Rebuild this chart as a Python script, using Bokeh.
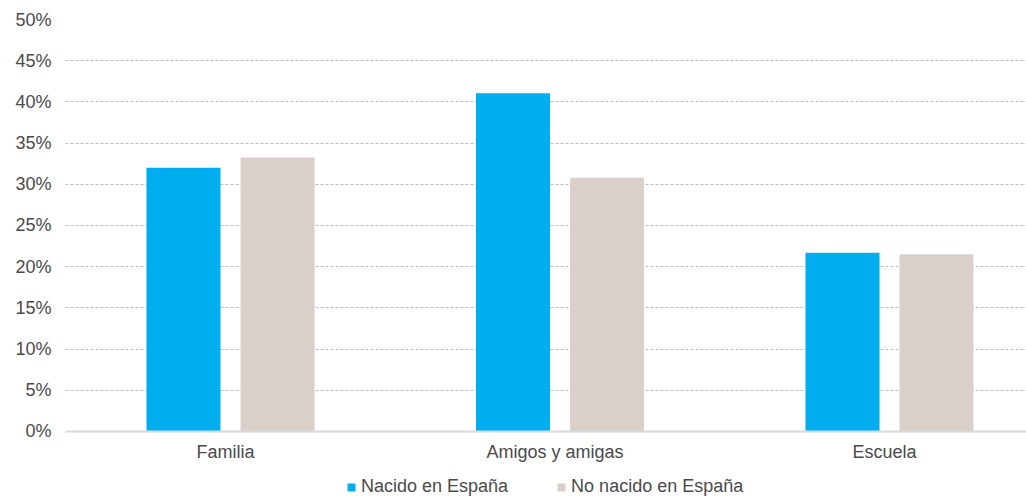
from bokeh.plotting import figure
from bokeh.models import ColumnDataSource, Legend, LegendItem, FixedTicker, PrintfTickFormatter, Range1d
from bokeh.embed import file_html
from bokeh.resources import INLINE

categories = ["Familia", "Amigos y amigas", "Escuela"]
nacido = [32.0, 41.05, 21.7]
no_nacido = [33.25, 30.8, 21.5]
series_names = ["Nacido en España", "No nacido en España"]
y_ticks = [0, 5, 10, 15, 20, 25, 30, 35, 40, 45, 50]

BLUE = "#00AEEF"
BEIGE = "#D9D0CA"
TXT = "#4a4a4a"
FONT = "Liberation Sans"

x = list(range(len(categories)))
off_blue = -0.1275
off_beige = 0.158
bw = 0.2246

src1 = ColumnDataSource(dict(x=[v + off_blue for v in x], top=nacido))
src2 = ColumnDataSource(dict(x=[v + off_beige for v in x], top=no_nacido))

p = figure(width=1026, height=496, output_backend="svg", toolbar_location=None,
           x_range=Range1d(-0.4856, 2.431), y_range=Range1d(-7.89, 50),
           min_border_left=65, min_border_right=0, min_border_top=19, min_border_bottom=0)
p.outline_line_color = None

r1 = p.vbar(x="x", top="top", width=bw, source=src1, fill_color=BLUE, line_color=None)
r2 = p.vbar(x="x", top="top", width=bw, source=src2, fill_color=BEIGE, line_color=None)

p.xgrid.grid_line_color = None
p.ygrid.grid_line_color = "#BDBDBD"
p.ygrid.grid_line_dash = "3 2"
p.ygrid.grid_line_width = 1
p.ygrid.ticker = FixedTicker(ticks=y_ticks[1:])
p.ygrid.level = "underlay"

p.yaxis.ticker = FixedTicker(ticks=y_ticks)
p.yaxis.formatter = PrintfTickFormatter(format="%d%%")
p.yaxis.axis_line_color = None
p.yaxis.major_tick_line_color = None
p.yaxis.minor_tick_line_color = None
p.yaxis.major_label_standoff = 8
p.yaxis.major_label_text_font = FONT
p.yaxis.major_label_text_font_size = "18px"
p.yaxis.major_label_text_color = TXT

p.xaxis.fixed_location = 0
p.xaxis.ticker = FixedTicker(ticks=x)
p.xaxis.major_label_overrides = {i: c for i, c in enumerate(categories)}
p.xaxis.axis_line_color = "#D9D9D9"
p.xaxis.axis_line_width = 2
p.xaxis.major_tick_line_color = None
p.xaxis.minor_tick_line_color = None
p.xaxis.major_label_standoff = 5
p.xaxis.major_label_text_font = FONT
p.xaxis.major_label_text_font_size = "18px"
p.xaxis.major_label_text_color = TXT

legend = Legend(items=[LegendItem(label=series_names[0], renderers=[r1]),
                       LegendItem(label=series_names[1], renderers=[r2])],
                orientation="horizontal", location=(281, -1))
legend.border_line_color = None
legend.background_fill_alpha = 0
legend.glyph_width = 10
legend.glyph_height = 10
legend.label_standoff = 5
legend.spacing = 48
legend.padding = 0
legend.margin = 0
legend.label_text_font = FONT
legend.label_text_font_size = "18px"
legend.label_text_color = TXT
p.add_layout(legend)

open("out.html", "w").write(file_html(p, INLINE))
